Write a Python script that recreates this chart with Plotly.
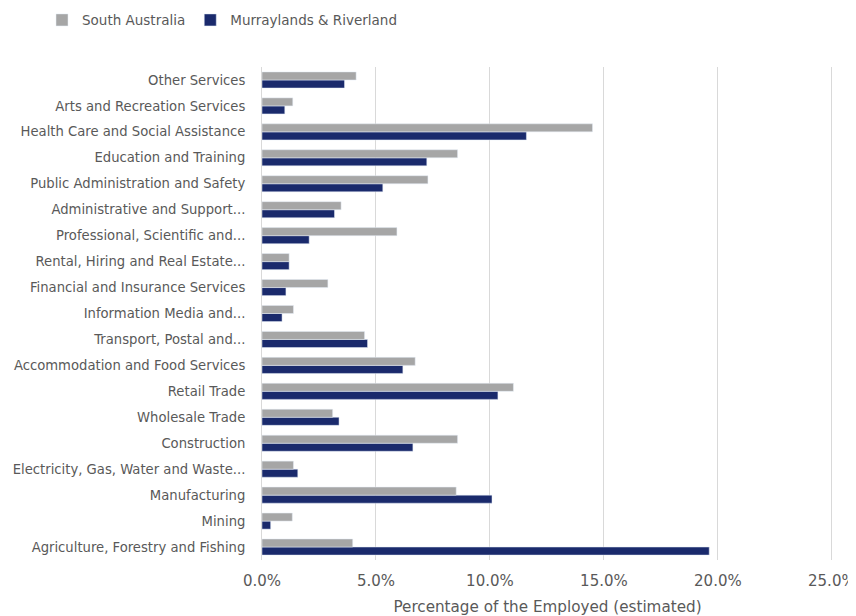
import plotly.graph_objects as go

categories = [
    "Agriculture, Forestry and Fishing",
    "Mining",
    "Manufacturing",
    "Electricity, Gas, Water and Waste...",
    "Construction",
    "Wholesale Trade",
    "Retail Trade",
    "Accommodation and Food Services",
    "Transport, Postal and...",
    "Information Media and...",
    "Financial and Insurance Services",
    "Rental, Hiring and Real Estate...",
    "Professional, Scientific and...",
    "Administrative and Support...",
    "Public Administration and Safety",
    "Education and Training",
    "Health Care and Social Assistance",
    "Arts and Recreation Services",
    "Other Services",
]

south_australia = [0.0398, 0.0133, 0.0852, 0.0138, 0.0858, 0.0310, 0.1103, 0.0672,
                   0.0450, 0.0138, 0.0289, 0.0119, 0.0592, 0.0347, 0.0728, 0.0858,
                   0.1450, 0.0135, 0.0413]
murraylands = [0.1962, 0.0038, 0.1009, 0.0157, 0.0662, 0.0338, 0.1035, 0.0618,
               0.0463, 0.0088, 0.0105, 0.0119, 0.0207, 0.0318, 0.0530, 0.0723,
               0.1160, 0.0100, 0.0362]

x_ticks = [0, 0.05, 0.10, 0.15, 0.20, 0.25]

FONT = "DejaVu Sans"
TXT = "#595959"

fig = go.Figure()
fig.add_trace(go.Bar(y=categories, x=murraylands, orientation="h",
                     name="Murraylands & Riverland", marker_color="#1a2a6c"))
fig.add_trace(go.Bar(y=categories, x=south_australia, orientation="h",
                     name="South Australia", marker_color="#a6a6a6"))

fig.update_layout(
    width=848, height=608,
    margin=dict(l=254, r=23, t=59, b=56, autoexpand=False),
    paper_bgcolor="white", plot_bgcolor="white",
    barmode="group", bargap=0.38, bargroupgap=0,
    font=dict(family=FONT, size=13.2, color=TXT),
    legend=dict(orientation="h", x=34 / 848, xref="container", xanchor="left",
                y=0.980, yref="container", yanchor="middle",
                traceorder="reversed", font=dict(family=FONT, size=13.5, color=TXT)),
    xaxis=dict(range=[0, 0.2505], tickvals=x_ticks, tickformat=".1%",
               showgrid=True, gridcolor="#d9d9d9", gridwidth=1,
               zeroline=False, showline=False, automargin=False,
               ticklabelstandoff=10,
               tickfont=dict(family=FONT, size=15, color=TXT),
               title=dict(text="Percentage of the Employed (estimated)",
                          font=dict(family=FONT, size=15.2, color=TXT), standoff=12)),
    yaxis=dict(showline=True, linecolor="#d9d9d9", ticks="", showgrid=False,
               automargin=False, ticklabelstandoff=13,
               tickfont=dict(family=FONT, size=13.2, color=TXT)),
)

fig.write_html("out.html")
